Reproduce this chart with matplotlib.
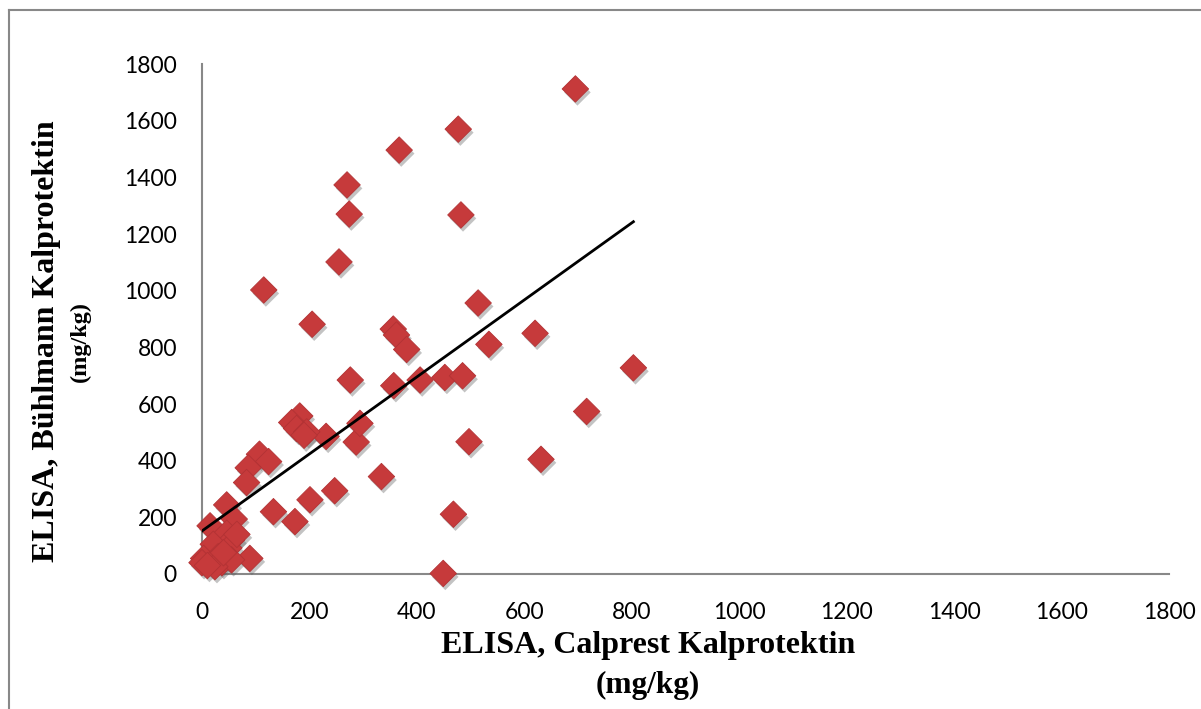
import matplotlib
matplotlib.use("Agg")
import matplotlib.pyplot as plt
import matplotlib.patheffects as pe
from matplotlib.lines import Line2D
import numpy as np

# Data (mg/kg)
calprest = [695, 477, 367, 270, 274, 482, 255, 115, 514, 205,
            356, 362, 381, 620, 534, 803, 276, 357, 406, 452,
            485, 716, 497, 631, 468, 449, 287, 294, 231, 182,
            167, 176, 195, 190, 334, 247, 201, 133, 173, 107,
            124, 86, 83, 89, 46, 15, 60, 46, 55, 21,
            50, 3, 0, 30, 37, 55, 24, 40, 10, 65]
buhlmann = [1713, 1571, 1497, 1374, 1271, 1268, 1102, 1003, 957, 882,
            865, 844, 793, 850, 811, 728, 685, 665, 685, 694,
            700, 574, 467, 405, 211, 2, 466, 532, 486, 558,
            535, 514, 502, 490, 344, 294, 262, 220, 185, 423,
            397, 375, 323, 55, 244, 170, 194, 144, 120, 105,
            92, 55, 40, 61, 40, 50, 26, 75, 30, 140]

trend_intercept = 152
trend_slope = 1.36

ticks = [0, 200, 400, 600, 800, 1000, 1200, 1400, 1600, 1800]

fig = plt.figure(figsize=(12.01, 7.09), dpi=100)
ax = fig.add_axes([202/1201, 1-574/709, (1169-202)/1201, (574-64.3)/709])

x = np.array(calprest, dtype=float)
y = np.array(buhlmann, dtype=float)

ax.scatter(x, y, marker='D', s=13.5**2, facecolor='#C63A3B', edgecolor='#B23234',
           linewidths=0.6, zorder=2, clip_on=False,
           path_effects=[pe.SimplePatchShadow(offset=(1.5, -2.5), shadow_rgbFace='#555555', alpha=0.35),
                         pe.Normal()])

tx = np.array([x.min(), x.max()])
ax.plot(tx, trend_intercept + trend_slope * tx, color='black', lw=2, zorder=3)

ax.set_xlim(0, 1800)
ax.set_ylim(0, 1800)
ax.set_xticks(ticks)
ax.set_yticks(ticks)
ax.set_xticklabels([str(t) for t in ticks])
ax.set_yticklabels([str(t) for t in ticks])
ax.tick_params(length=0, labelsize=16.5)
for lab in ax.get_xticklabels() + ax.get_yticklabels():
    lab.set_fontfamily('Lato')
    lab.set_color('black')
ax.tick_params(axis='x', pad=20)
ax.tick_params(axis='y', pad=18)

for s in ['top', 'right']:
    ax.spines[s].set_visible(False)
for s in ['left', 'bottom']:
    ax.spines[s].set_color('#888888')
    ax.spines[s].set_linewidth(1.5)
    ax.spines[s].set_zorder(1)

serif = 'Liberation Serif'
fig.text(47/1201, 1-341/709, 'ELISA, Bühlmann Kalprotektin', rotation=90,
         ha='center', va='center', fontsize=23, fontweight='bold', family=serif)
fig.text(80/1201, 1-342/709, '(mg/kg)', rotation=90,
         ha='center', va='center', fontsize=17.5, fontweight='bold', family=serif)
fig.text(648/1201, 1-645/709, 'ELISA, Calprest Kalprotektin',
         ha='center', va='center', fontsize=23, fontweight='bold', family=serif)
fig.text(648/1201, 1-685/709, '(mg/kg)',
         ha='center', va='center', fontsize=22.5, fontweight='bold', family=serif)

# outer frame (left and top edges)
fig.add_artist(Line2D([9/1201, 9/1201], [0, 1-9.5/709], transform=fig.transFigure,
                      color='#888888', lw=1.5))
fig.add_artist(Line2D([9/1201, 1], [1-9.5/709, 1-9.5/709], transform=fig.transFigure,
                      color='#888888', lw=1.5))

fig.savefig('out.png', dpi=100)
